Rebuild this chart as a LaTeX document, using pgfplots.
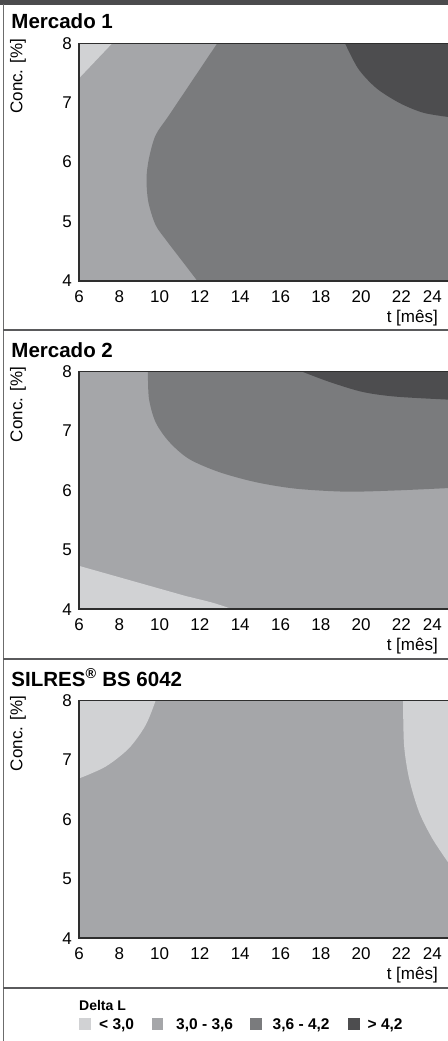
\documentclass[border=0pt]{standalone}
\usepackage{fontspec}
\setmainfont{Liberation Sans}
\usepackage{pgfplots}
\pgfplotsset{compat=1.18}
\usepgfplotslibrary{fillbetween}
\definecolor{cA}{HTML}{D1D2D4}
\definecolor{cB}{HTML}{A5A6A9}
\definecolor{cC}{HTML}{7A7B7D}
\definecolor{cD}{HTML}{4D4D4F}
\definecolor{axln}{HTML}{2E2E2E}
\definecolor{divln}{HTML}{5A5A5C}
\definecolor{bar}{HTML}{4B4B4D}
\newcommand{\tf}{\fontsize{17bp}{20bp}\selectfont}
\newcommand{\ttlf}{\fontsize{20.5bp}{24bp}\selectfont\bfseries}
\pgfplotsset{
  panel/.style={
    scale only axis, width=369bp, height=237.5bp,
    anchor=north west,
    xmin=6, xmax=24.31, ymin=4, ymax=8,
    xtick={6,8,...,24}, ytick={4,5,6,7,8},
    xticklabels={6,8,10,12,14,16,18,20,22,\llap{24}},
    major tick length=0pt,
    axis background/.style={fill=cB},
    axis line style={draw=none},
    tick label style={font=\tf, inner sep=0pt},
    /pgf/number format/assume math mode=true,
    xticklabel style={anchor=north, yshift=-9.6bp},
    yticklabel style={anchor=east, xshift=-7bp},
    xlabel={t [mês]}, ylabel={Conc. [\%]},
    label style={font=\tf, inner sep=0pt},
    xlabel style={at={(axis description cs:0.9729,-0.174)}, anchor=base east},
    ylabel style={at={(axis description cs:-0.1653,0.862)}, anchor=center},
    after end axis/.code={
      \draw[line width=1.5bp, draw=axln] (rel axis cs:1,1) -- (rel axis cs:0,1) -- (rel axis cs:0,0) -- (rel axis cs:1,0);
    },
  }
}
\begin{document}
\begin{tikzpicture}
% frame decoration
\fill[bar] (0,0) rectangle (448bp,-4.5bp);
\draw[draw=gray!85!black, line width=1bp] (3.3bp,-4bp) -- (3.3bp,-1041bp);
\draw[divln, line width=2bp] (3bp,-330bp) -- (448bp,-330bp);
\draw[divln, line width=2bp] (3bp,-659bp) -- (448bp,-659bp);
\draw[divln, line width=2bp] (3bp,-988.3bp) -- (448bp,-988.3bp);
% titles
\node[anchor=base west, inner sep=0pt, font=\ttlf] at (11.3bp,-28.3bp) {Mercado 1};
\node[anchor=base west, inner sep=0pt, font=\ttlf] at (11.3bp,-357.3bp) {Mercado 2};
\node[anchor=base west, inner sep=0pt, font=\ttlf] at (11.3bp,-686.3bp) {SILRES\textsuperscript{®} BS 6042};

% ---------- Panel 1 ----------
\begin{axis}[panel, at={(79bp,-43.3bp)}]
\addplot[name path=p1a, draw=none, smooth] coordinates {(12.86,8) (11.665,7.395) (10.47,6.79) (9.80,6.45) (9.47,6.06) (9.35,5.72) (9.44,5.33) (9.80,4.94) (10.38,4.66) (11.125,4.33) (11.87,4)};
\addplot[name path=p1b, draw=none] coordinates {(12.86,8) (24.31,8) (24.31,4) (11.87,4)};
\addplot[fill=cC, draw=none] fill between[of=p1a and p1b];
\addplot[name path=p1c, draw=none, smooth] coordinates {(19.20,8) (19.86,7.57) (20.77,7.24) (21.93,6.99) (23.09,6.83) (24.31,6.76)};
\addplot[name path=p1d, draw=none] coordinates {(19.20,8) (24.31,8) (24.31,6.76)};
\addplot[fill=cD, draw=none] fill between[of=p1c and p1d];
\addplot[fill=cA, draw=none] coordinates {(6,8) (7.65,8) (6,7.41)};
\end{axis}

% ---------- Panel 2 ----------
\begin{axis}[panel, at={(79bp,-371.7bp)}]
\addplot[name path=p2a, draw=none, smooth] coordinates {(6,4.73) (7.65,4.56) (9.31,4.39) (10.96,4.25) (12.62,4.11) (13.61,4.0)};
\addplot[name path=p2b, draw=none] coordinates {(6,4.73) (6,4) (13.61,4)};
\addplot[fill=cA, draw=none] fill between[of=p2a and p2b];
\addplot[name path=p2c, draw=none, smooth] coordinates {(9.42,8) (9.47,7.55) (9.80,7.15) (10.47,6.82) (11.46,6.53) (12.95,6.31) (14.77,6.14) (16.75,6.03) (19.23,5.98) (21.72,6.0) (24.31,6.04)};
\addplot[name path=p2d, draw=none] coordinates {(9.42,8) (24.31,8) (24.31,6.04)};
\addplot[fill=cC, draw=none] fill between[of=p2c and p2d];
\addplot[name path=p2e, draw=none, smooth] coordinates {(17.08,8) (18.41,7.83) (20.06,7.66) (21.72,7.58) (24.31,7.53)};
\addplot[name path=p2f, draw=none] coordinates {(17.08,8) (24.31,8) (24.31,7.53)};
\addplot[fill=cD, draw=none] fill between[of=p2e and p2f];
\end{axis}

% ---------- Panel 3 ----------
\begin{axis}[panel, at={(79bp,-700.7bp)}]
\addplot[name path=p3a, draw=none, smooth] coordinates {(9.80,8) (9.31,7.59) (8.48,7.20) (7.32,6.89) (6,6.69)};
\addplot[name path=p3b, draw=none] coordinates {(9.80,8) (6,8) (6,6.69)};
\addplot[fill=cA, draw=none] fill between[of=p3a and p3b];
\addplot[name path=p3c, draw=none, smooth] coordinates {(22.08,8) (22.13,7.25) (22.38,6.69) (22.87,6.13) (23.53,5.68) (24.31,5.28)};
\addplot[name path=p3d, draw=none] coordinates {(22.08,8) (24.31,8) (24.31,5.28)};
\addplot[fill=cA, draw=none] fill between[of=p3c and p3d];
\end{axis}

% ---------- Legend ----------
\node[anchor=base west, inner sep=0pt, font=\fontsize{14bp}{17bp}\selectfont\bfseries] at (79bp,-1010bp) {Delta L};
\fill[cA] (79.3bp,-1018.4bp) rectangle (90.8bp,-1029.9bp);
\fill[cB] (151.7bp,-1018.4bp) rectangle (163.2bp,-1029.9bp);
\fill[cC] (250bp,-1018.4bp) rectangle (261.5bp,-1029.9bp);
\fill[cD] (348.3bp,-1018.4bp) rectangle (359.8bp,-1029.9bp);
\begin{scope}[every node/.style={anchor=base west, inner sep=0pt, font=\fontsize{15.5bp}{18bp}\selectfont\bfseries}]
\node at (99bp,-1029.3bp) {< 3,0};
\node at (176bp,-1029.3bp) {3,0 - 3,6};
\node at (272.5bp,-1029.3bp) {3,6 - 4,2};
\node at (367.5bp,-1029.3bp) {> 4,2};
\end{scope}
\pgfresetboundingbox
\useasboundingbox (0,0) rectangle (448bp,-1041bp);
\end{tikzpicture}
\end{document}
